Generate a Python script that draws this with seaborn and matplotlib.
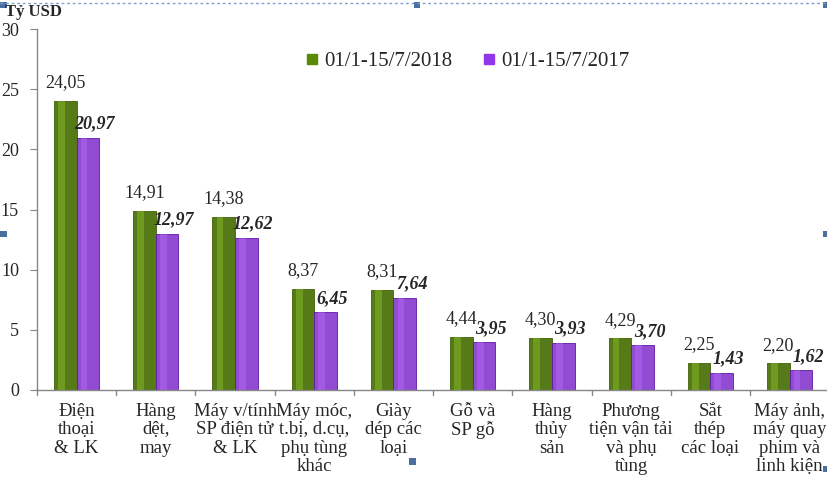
import pandas as pd
import seaborn as sns
import matplotlib.pyplot as plt
from matplotlib.patches import Rectangle
from matplotlib.lines import Line2D

categories = [
    "Điện\nthoại\n& LK",
    "Hàng\ndệt,\nmay",
    "Máy v/tính\nSP điện tử\n& LK",
    "Máy móc,\nt.bị, d.cụ,\nphụ tùng\nkhác",
    "Giày\ndép các\nloại",
    "Gỗ và\nSP gỗ",
    "Hàng\nthủy\nsản",
    "Phương\ntiện vận tải\nvà phụ\ntùng",
    "Sắt\nthép\ncác loại",
    "Máy ảnh,\nmáy quay\nphim và\nlinh kiện",
]
values_2018 = [24.05, 14.91, 14.38, 8.37, 8.31, 4.44, 4.30, 4.29, 2.25, 2.20]
values_2017 = [20.97, 12.97, 12.62, 6.45, 7.64, 3.95, 3.93, 3.70, 1.43, 1.62]
series = ["01/1-15/7/2018", "01/1-15/7/2017"]
colors = ["#5a8a08", "#9236ea"]

df = pd.DataFrame({
    "Category": categories * 2,
    "Value": values_2018 + values_2017,
    "Period": [series[0]] * len(categories) + [series[1]] * len(categories),
})

sns.set_style("white")
plt.rcParams["font.family"] = ["Liberation Serif", "DejaVu Serif"]
plt.rcParams["font.size"] = 13

fig = plt.figure(figsize=(8.27, 4.79), dpi=100)
# the chart runs a little past the right edge, as in the original slide
ax = fig.add_axes([0.0447, 0.186, 0.958, 0.753])

sns.barplot(data=df, x="Category", y="Value", hue="Period", palette=colors,
            width=0.57, gap=0, ax=ax, legend=True)

# bevel-ish look on bars
for cont, col, edge in zip(ax.containers, ["#8fc22a", "#b66cf5"], ["#3f6204", "#5c1a9e"]):
    for bar in cont:
        bar.set_edgecolor(edge)
        bar.set_linewidth(0.6)
        x, w, h = bar.get_x(), bar.get_width(), bar.get_height()
        ax.add_patch(Rectangle((x + w * 0.18, 0), w * 0.3, h, color=col, alpha=0.45, lw=0, zorder=3))

# value labels
for v, bar in zip(values_2018, ax.containers[0]):
    ax.annotate(f"{v:.2f}".replace(".", ","), (bar.get_x() + bar.get_width() / 2, v),
                xytext=(0, 7), textcoords="offset points", ha="center", va="bottom", fontsize=13)
for v, bar in zip(values_2017, ax.containers[1]):
    ax.annotate(f"{v:.2f}".replace(".", ","), (bar.get_x() + bar.get_width() / 2, v),
                xytext=(5, 4), textcoords="offset points", ha="center", va="bottom",
                fontsize=13, fontweight="bold", fontstyle="italic")

ax.set_ylim(0, 30)
ax.set_xlim(-0.5, len(categories) - 0.5)
ax.set_yticks(range(0, 31, 5))
ax.set_xlabel("")
ax.set_ylabel("")
for s in ["top", "right"]:
    ax.spines[s].set_visible(False)
for s in ["left", "bottom"]:
    ax.spines[s].set_color("#868686")
    ax.spines[s].set_linewidth(1)

ax.tick_params(axis="y", left=True, length=5, color="#868686", labelsize=13, pad=8)
ax.set_xticks(range(len(categories)))
ax.set_xticklabels(categories, fontsize=13.5, linespacing=1.1, va="top")
ax.tick_params(axis="x", bottom=False, pad=6)
for b in range(len(categories) + 1):
    ax.plot([b - 0.5, b - 0.5], [0, -0.45], color="#868686", lw=1, clip_on=False)

handles = [Line2D([], [], marker="s", ls="", color=c, markersize=7) for c in colors]
ax.legend(handles, series, loc="upper center", bbox_to_anchor=(0.541, 0.99), ncol=2,
          frameon=False, fontsize=15, handletextpad=0.05, columnspacing=1.3, handlelength=1.0)

fig.text(0.006, 0.975, "Tỷ USD", fontsize=12, fontweight="bold", va="center", ha="left")

# slide border and handles
fig.add_artist(Line2D([0, 1], [0.993, 0.993], color="#7f9fcf", lw=1, ls=(0, (2, 2))))
for hx, hy in [(0.0, 0.983), (0.5, 0.983), (0.995, 0.983), (0.0, 0.505), (0.995, 0.505),
               (0.495, 0.03), (0.995, 0.015)]:
    fig.add_artist(Rectangle((hx, hy), 0.008, 0.013, color="#4a6fa0", lw=0))

fig.savefig("out.png", dpi=100)
